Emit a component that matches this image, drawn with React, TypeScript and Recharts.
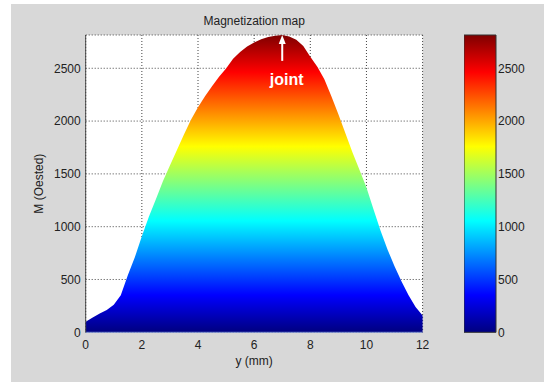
import React from 'react';
import {
  ComposedChart,
  Area,
  XAxis,
  YAxis,
  CartesianGrid,
  ReferenceLine,
  ReferenceDot,
  BarChart,
  Bar,
} from 'recharts';

// ---- data ----
const positionsMm = [
  0, 0.25, 0.5, 0.75, 1, 1.25, 1.5, 1.75, 2, 2.25, 2.5, 2.75, 3, 3.25, 3.5, 3.75,
  4, 4.25, 4.5, 4.75, 5, 5.25, 5.5, 5.75, 6, 6.25, 6.5, 6.75, 7, 7.25, 7.5, 7.75,
  8, 8.25, 8.5, 8.75, 9, 9.25, 9.5, 9.75, 10, 10.25, 10.5, 10.75, 11, 11.25, 11.5,
  11.75, 12,
];
const magnetization = [
  100, 140, 178, 212, 260, 350, 540, 710, 910, 1095, 1260, 1430, 1580, 1727, 1872, 2012,
  2130, 2235, 2330, 2420, 2497, 2590, 2655, 2705, 2745, 2775, 2795, 2808, 2815, 2800, 2770, 2710,
  2610, 2515, 2395, 2235, 2065, 1885, 1705, 1540, 1370, 1165, 965, 785, 625, 480, 350,
  240, 160,
];
const xTicks = [0, 2, 4, 6, 8, 10, 12];
const yTicks = [0, 500, 1000, 1500, 2000, 2500];
const maxM = 2815;
const colorbarValues = [maxM];

const titleText = 'Magnetization map';
const xLabelText = 'y (mm)';
const yLabelText = 'M (Oested)';
const annotationText = 'joint';
const arrowX = 7;
const arrowFromM = 2570;
const arrowToM = 2780;
const arrowTipM = 2815;
const jointLabelX = 7.16;
const jointLabelM = 2389;

const chartData = positionsMm.map((x, i) => ({ x, m: magnetization[i] }));
const barData = colorbarValues.map((v) => ({ name: 'cb', v }));

// jet colormap, offsets measured from top (max) to bottom (0)
const jetStops = [
  { offset: 0, color: '#7f0000' },
  { offset: 0.125, color: '#ff0000' },
  { offset: 0.375, color: '#ffff00' },
  { offset: 0.625, color: '#00ffff' },
  { offset: 0.875, color: '#0000ff' },
  { offset: 1, color: '#00007f' },
];

const FONT = 'Arial, "Liberation Sans", sans-serif';

function JetGradient({ id }: { id: string }) {
  return (
    <defs>
      <linearGradient id={id} x1="0" y1="0" x2="0" y2="1">
        {jetStops.map((s) => (
          <stop key={s.offset} offset={s.offset} stopColor={s.color} />
        ))}
      </linearGradient>
    </defs>
  );
}

const ArrowHead = (props: any) => {
  const { cx, cy } = props;
  if (cx == null || cy == null) return null;
  return (
    <polygon
      points={`${cx},${cy} ${cx - 3.5},${cy + 9} ${cx + 3.5},${cy + 9}`}
      fill="#ffffff"
    />
  );
};

const JointLabel = (props: any) => {
  const { cx, cy } = props;
  if (cx == null || cy == null) return null;
  return (
    <text
      x={cx}
      y={cy}
      textAnchor="middle"
      dominantBaseline="central"
      fill="#ffffff"
      fontFamily={FONT}
      fontWeight="bold"
      fontSize={16}
    >
      {annotationText}
    </text>
  );
};

export default function App() {
  return (
    <div
      style={{
        position: 'absolute',
        left: 0,
        top: 0,
        width: 544,
        height: 382,
        background: '#ffffff',
        overflow: 'hidden',
      }}
    >
      <div
        style={{
          position: 'absolute',
          left: 11,
          top: 4,
          right: 0,
          bottom: 0,
          background: '#d8d8d8',
        }}
      />
      <div
        style={{
          position: 'absolute',
          left: 85.7,
          width: 337,
          top: 14,
          height: 14,
          lineHeight: '14px',
          textAlign: 'center',
          fontFamily: FONT,
          fontSize: 12,
          color: '#222',
        }}
      >
        {titleText}
      </div>
      <div style={{ position: 'absolute', left: 0, top: 0 }}>
        <ComposedChart
          width={544}
          height={382}
          data={chartData}
          margin={{ top: 35, right: 121.4, bottom: 25.7, left: 0 }}
        >
          <JetGradient id="jetArea" />
          <CartesianGrid
            fill="#ffffff"
            stroke="#444"
            strokeDasharray="1 2"
          />
          <XAxis
            type="number"
            dataKey="x"
            domain={[0, 12]}
            ticks={xTicks}
            interval={0}
            height={24}
            tickLine={false}
            tickSize={0}
            tickMargin={8}
            axisLine={{ stroke: '#7b8fd0', strokeWidth: 1 }}
            tick={{ fill: '#222', fontSize: 12, fontFamily: FONT }}
            label={{
              value: xLabelText,
              position: 'bottom',
              offset: 0,
              fill: '#222',
              fontSize: 12,
              fontFamily: FONT,
            }}
          />
          <YAxis
            type="number"
            domain={[0, maxM]}
            ticks={yTicks}
            interval={0}
            width={85.7}
            tickLine={false}
            tickSize={0}
            tickMargin={5}
            axisLine={{ stroke: '#444', strokeWidth: 1 }}
            tick={{ fill: '#222', fontSize: 12, fontFamily: FONT }}
            label={{
              value: yLabelText,
              angle: -90,
              position: 'insideLeft',
              offset: 39,
              fill: '#222',
              fontSize: 12,
              fontFamily: FONT,
              style: { textAnchor: 'middle' },
            }}
          />
          <Area
            type="linear"
            dataKey="m"
            stroke="none"
            fill="url(#jetArea)"
            fillOpacity={1}
            isAnimationActive={false}
            dot={false}
            activeDot={false}
          />
          <ReferenceLine
            segment={[
              { x: arrowX, y: arrowFromM },
              { x: arrowX, y: arrowToM },
            ]}
            stroke="#ffffff"
            strokeWidth={2}
            ifOverflow="visible"
          />
          <ReferenceDot
            x={arrowX}
            y={arrowTipM}
            r={4}
            shape={ArrowHead}
            ifOverflow="visible"
          />
          <ReferenceDot
            x={jointLabelX}
            y={jointLabelM}
            r={4}
            shape={JointLabel}
            ifOverflow="visible"
          />
        </ComposedChart>
      </div>
      <div style={{ position: 'absolute', left: 464, top: 0 }}>
        <BarChart
          width={80}
          height={382}
          data={barData}
          barCategoryGap={0}
          margin={{ top: 35, right: 0, bottom: 49.7, left: 0 }}
        >
          <JetGradient id="jetBar" />
          <XAxis dataKey="name" hide />
          <YAxis
            orientation="right"
            type="number"
            domain={[0, maxM]}
            ticks={yTicks}
            interval={0}
            width={48}
            axisLine={false}
            tickLine={false}
            tickSize={0}
            tickMargin={2}
            tick={{ fill: '#222', fontSize: 12, fontFamily: FONT }}
          />
          <Bar
            dataKey="v"
            fill="url(#jetBar)"
            stroke="#333"
            strokeWidth={1}
            isAnimationActive={false}
          />
        </BarChart>
      </div>
    </div>
  );
}
